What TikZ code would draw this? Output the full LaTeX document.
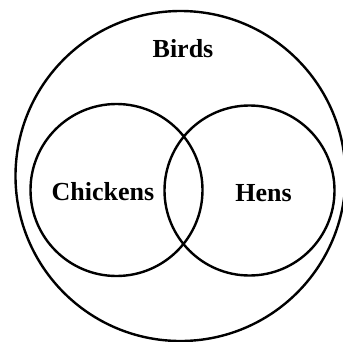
\documentclass[tikz,border=0pt]{standalone}
\usepackage{fontspec}
\setmainfont{Liberation Serif}
\begin{document}
\begin{tikzpicture}[x=1pt,y=-1pt,
  ring/.style={draw=black,line width=2.4pt,circle,inner sep=0pt},
  lbl/.style={font=\fontsize{26}{30}\selectfont\bfseries,inner sep=0pt}]
\useasboundingbox (0,0) rectangle (343,341);
\begin{scope}
\clip (0,0) rectangle (343,341);
\node[ring,minimum size=330pt] (birds) at (180.5,176) {};
\end{scope}
\node[ring,minimum size=172pt] (chickens) at (116.5,190) {};
\node[ring,minimum size=170pt] (hens) at (249.5,190.5) {};
\node[lbl] (tb) at (183,49) {Birds};
\node[lbl] (tc) at (103,192) {Chickens};
\node[lbl] (th) at (263.5,193) {Hens};
\end{tikzpicture}
\end{document}
